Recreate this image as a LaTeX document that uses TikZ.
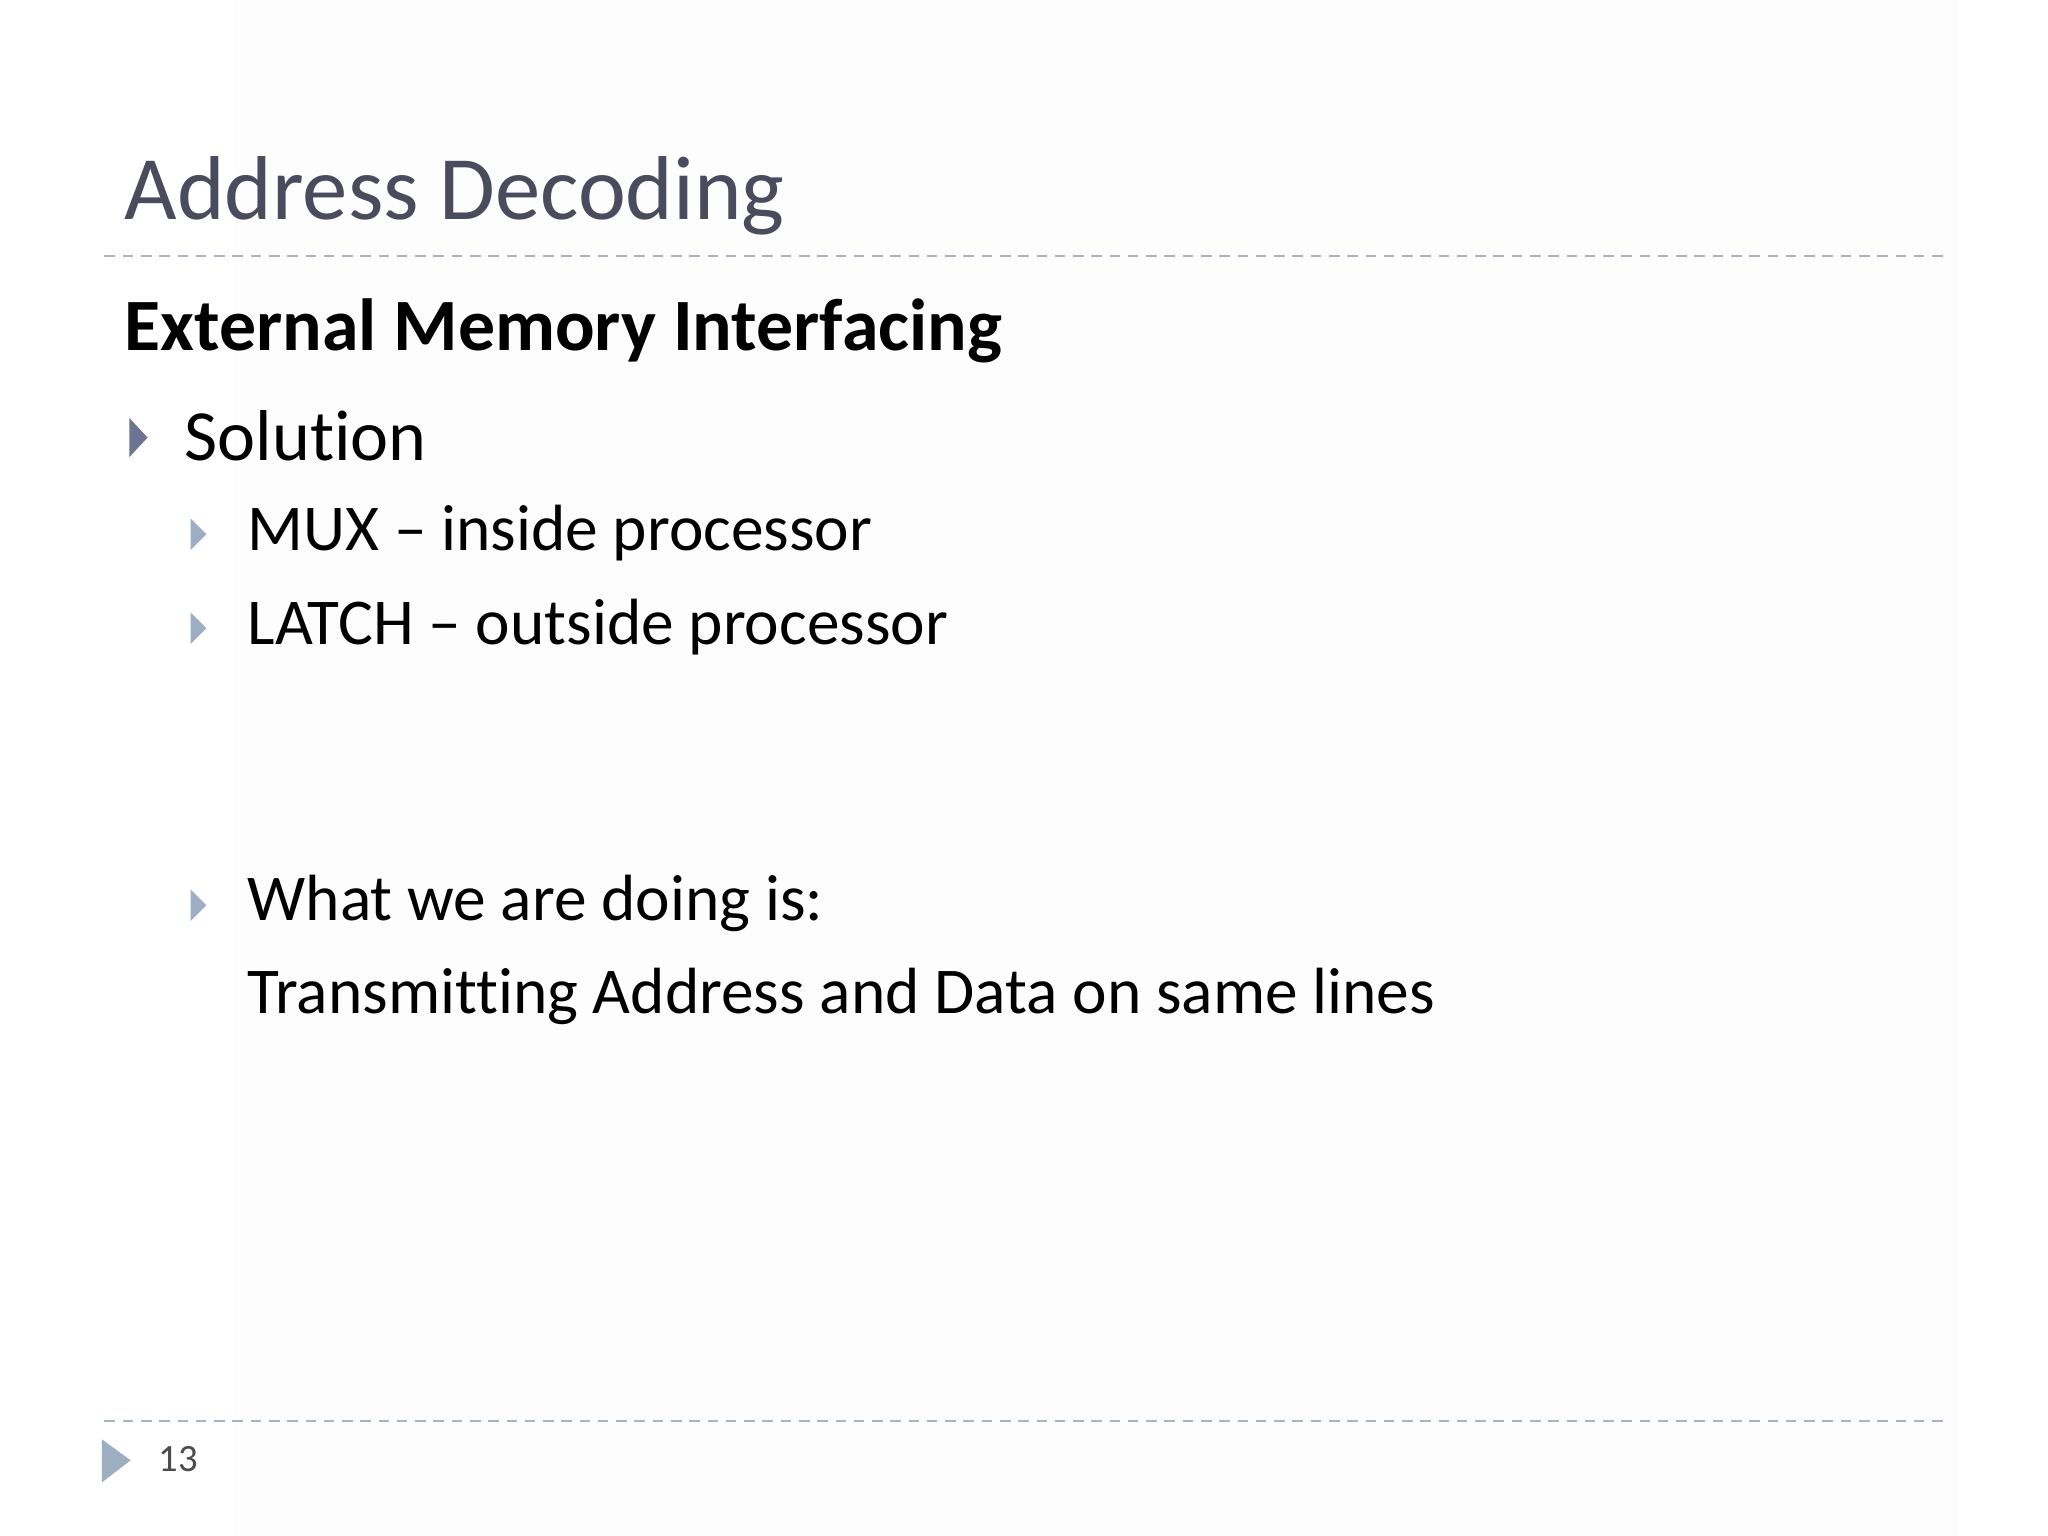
\documentclass[tikz,border=0pt]{standalone}
\usepackage{fontspec}
\setmainfont{Carlito}[RawFeature=-liga]
\definecolor{titlec}{HTML}{4A4B5C}
\definecolor{dashc}{HTML}{A9B4C2}
\definecolor{tri1}{HTML}{6E7293}
\definecolor{tri2}{HTML}{9DAEC2}
\begin{document}
\begin{tikzpicture}[x=0.013061cm,y=-0.013061cm,
  txt/.style={anchor=west,inner sep=0pt,text=black},
  sep/.style={draw=dashc,dash pattern=on 3pt off 2.2pt,line width=0.6pt},
  bullA/.style={fill=tri1},
  bullB/.style={fill=tri2}]
\useasboundingbox (0,0) rectangle (1568,1176);
\fill[white] (0,0) rectangle (1568,1176);
\fill[black!0.7] (180,0) rectangle (1500,1176);
\node[txt,text=titlec,font=\fontsize{25.8}{30}\selectfont] (title) at (95,150) {Address Decoding};
\coordinate (s1a) at (80,196); \coordinate (s1b) at (1490,196);
\draw[sep] (s1a) -- (s1b);
\node[txt,font=\fontsize{21}{25}\selectfont\bfseries] (head) at (95,253) {External Memory Interfacing};
\fill[bullA] (99,320) -- (113,335) -- (99,350) -- cycle;
\node[txt,font=\fontsize{20.5}{25}\selectfont] (sol) at (141,334) {Solution};
\fill[bullB] (146,397) -- (158,409) -- (146,421) -- cycle;
\node[txt,font=\fontsize{18.6}{22}\selectfont] (mux) at (189,408) {MUX -- inside processor};
\fill[bullB] (146,469) -- (158,481) -- (146,493) -- cycle;
\node[txt,font=\fontsize{18.6}{22}\selectfont] (latch) at (189,480) {LATCH -- outside processor};
\fill[bullB] (146,681) -- (158,693) -- (146,705) -- cycle;
\node[txt,font=\fontsize{18.6}{22}\selectfont] (what) at (189,692) {What we are doing is:};
\node[txt,font=\fontsize{18.6}{22}\selectfont] (trans) at (189,763) {Transmitting Address and Data on same lines};
\coordinate (s2a) at (80,1088); \coordinate (s2b) at (1490,1088);
\draw[sep] (s2a) -- (s2b);
\fill[tri2] (78,1102) -- (100,1118) -- (78,1135) -- cycle;
\node[txt,text=black!70,font=\fontsize{11}{12}\selectfont] (pg) at (121,1117) {13};
\end{tikzpicture}
\end{document}
